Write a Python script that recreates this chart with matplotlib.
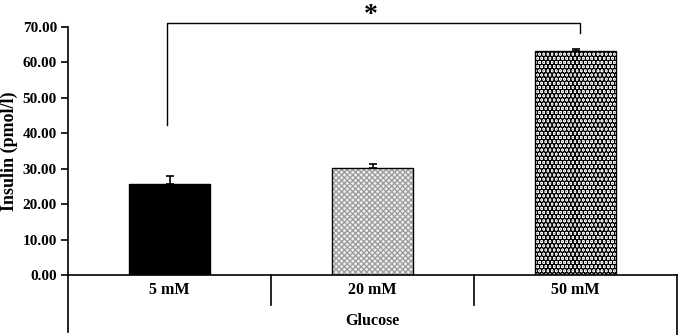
import matplotlib
matplotlib.use("Agg")
import matplotlib.pyplot as plt
from matplotlib.lines import Line2D

categories = ["5 mM", "20 mM", "50 mM"]
values = [25.7, 30.2, 63.3]
errors = [2.3, 1.2, 0.4]
yticks = [0, 10, 20, 30, 40, 50, 60, 70]
xlabel = "Glucose"
ylabel = "Insulin (pmol/l)"
sig_left_y = 42.4
sig_right_y = 68.4
sig_top_y = 71.1

plt.rcParams['font.family'] = ['Liberation Serif', 'DejaVu Serif']
plt.rcParams['font.weight'] = 'bold'

fig = plt.figure(figsize=(6.8, 3.35), dpi=100)
ax = fig.add_axes([68/680, 1-275/335, (677-68)/680, (275-27)/335])

x = list(range(len(categories)))
styles = [
    dict(color='black', edgecolor='black', hatch=None, hlw=1.0),
    dict(color='#eeeeee', edgecolor='#9a9a9a', hatch='xxxxxx', hlw=0.9),
    dict(color='white', edgecolor='black', hatch='....', hlw=3.2),
]
for i in x:
    st = styles[i]
    plt.rcParams['hatch.linewidth'] = st['hlw']
    b = ax.bar(i, values[i], width=0.4, color=st['color'], edgecolor=st['edgecolor'],
               hatch=st['hatch'], linewidth=0, zorder=2)
    for p in b:
        if hasattr(p, 'set_hatch_linewidth'):
            p.set_hatch_linewidth(st['hlw'])
    ax.bar(i, values[i], width=0.4, color='none', edgecolor='black', linewidth=1.0, zorder=3)
    ax.errorbar(i, values[i], yerr=[[0], [errors[i]]], fmt='none', ecolor='black',
                elinewidth=1.2, capsize=3, capthick=1.2, zorder=4)

ax.set_xlim(-0.5, len(categories) - 0.5)
ax.set_ylim(0, 70)
ax.set_yticks(yticks)
ax.set_yticklabels([f"{v:.2f}" for v in yticks], fontsize=11, fontweight='bold')
ax.tick_params(axis='y', direction='out', length=5, width=1.2, pad=3)
ax.set_xticks([])
ax.set_ylabel(ylabel, fontsize=13, fontweight='bold')
ax.yaxis.set_label_coords(-50/609, 0.5)

for s in ['top', 'right', 'bottom']:
    ax.spines[s].set_visible(False)
ax.spines['left'].set_linewidth(1.2)
ax.spines['left'].set_bounds(0, 70)

trans = ax.get_xaxis_transform()

ax.plot([-0.5, 2.5], [0, 0], color='black', lw=1.2, clip_on=False, zorder=5)
ax.add_line(Line2D([-0.5, -0.5], [0, -57/248], transform=trans, color='black', lw=1.2, clip_on=False))
for bnd in [0.5, 1.5]:
    ax.add_line(Line2D([bnd, bnd], [0, -30/248], transform=trans, color='black', lw=1.2, clip_on=False))
ax.add_line(Line2D([2.5, 2.5], [0, -60/248], transform=trans, color='black', lw=1.2, clip_on=False))

for i in x:
    ax.text(i, -15/248, categories[i], transform=trans, ha='center', va='center',
            fontsize=11.5, fontweight='bold')
ax.text(1, -46/248, xlabel, transform=trans, ha='center', va='center', fontsize=11.5, fontweight='bold')

ax.plot([-0.01, -0.01, 2.02, 2.02], [sig_left_y, sig_top_y, sig_top_y, sig_right_y],
        color='black', lw=1.0, clip_on=False)
ax.text(0.99, 74.2, "*", ha='center', va='center_baseline', fontsize=20, fontweight='bold')

fig.savefig("out.png", dpi=100)
